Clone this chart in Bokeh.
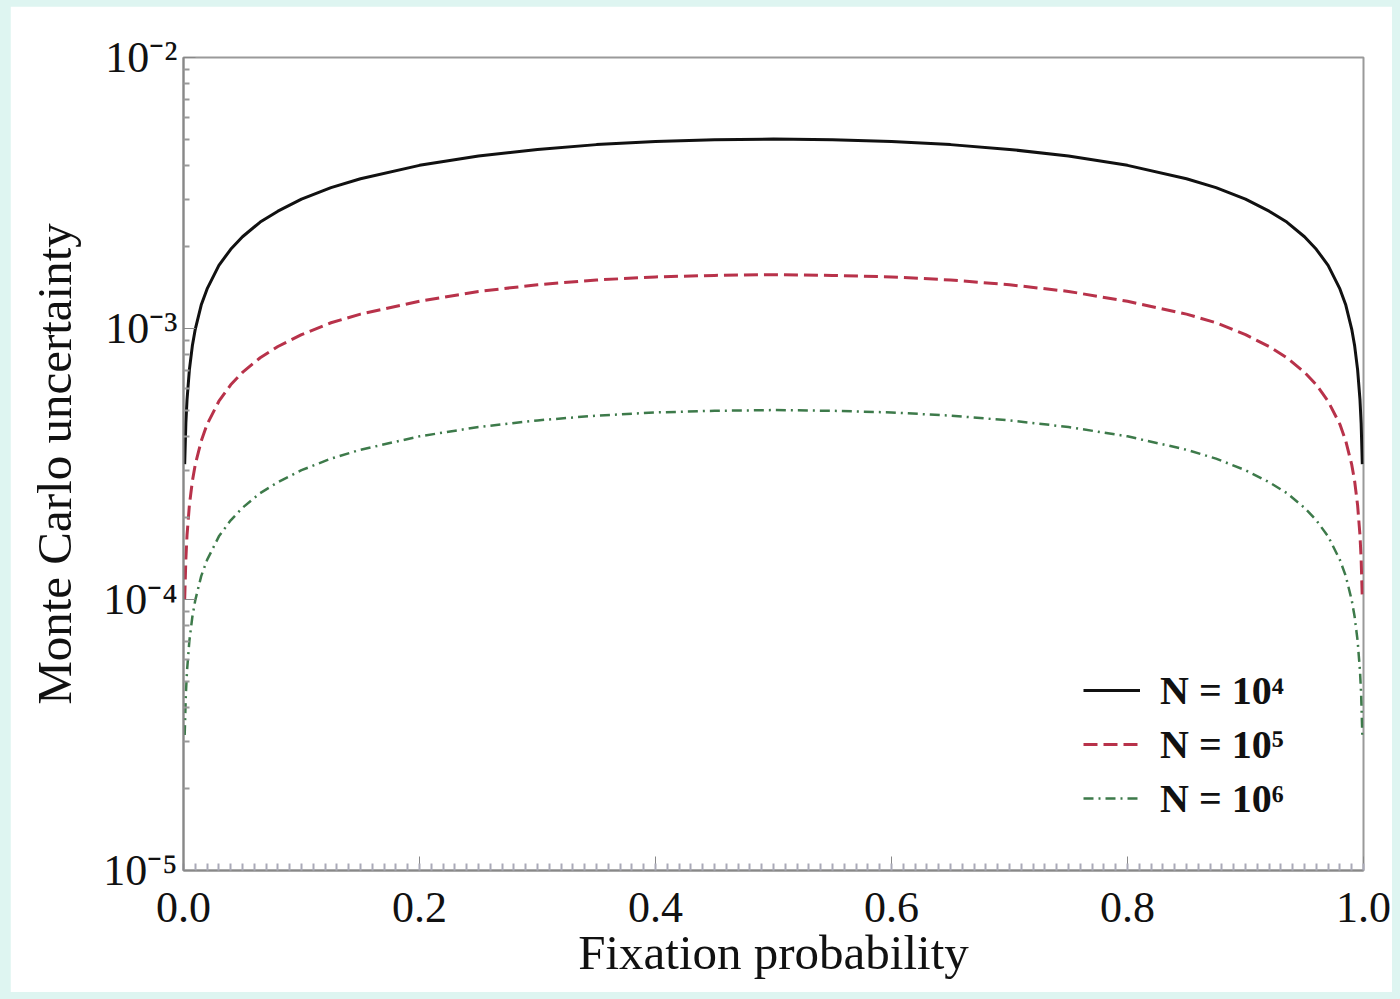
from bokeh.plotting import figure
from bokeh.models import Range1d, FixedTicker, Legend, LegendItem
from bokeh.layouts import column
from bokeh.embed import file_html
from bokeh.resources import INLINE

# ---- data ----
fix_prob = [0.001, 0.002, 0.003, 0.005, 0.0075, 0.01, 0.015, 0.02, 0.03, 0.04, 0.05,
            0.065, 0.08, 0.1, 0.125, 0.15, 0.2, 0.25, 0.3, 0.35, 0.4, 0.45, 0.5,
            0.55, 0.6, 0.65, 0.7, 0.75, 0.8, 0.85, 0.875, 0.9, 0.92, 0.935, 0.95,
            0.96, 0.97, 0.98, 0.985, 0.99, 0.9925, 0.995, 0.997, 0.998, 0.999]

unc_n1e4 = [3.16e-4, 4.47e-4, 5.47e-4, 7.05e-4, 8.63e-4, 9.95e-4, 1.22e-3, 1.40e-3, 1.71e-3,
            1.96e-3, 2.18e-3, 2.47e-3, 2.71e-3, 3.00e-3, 3.31e-3, 3.57e-3, 4.00e-3, 4.33e-3,
            4.58e-3, 4.77e-3, 4.90e-3, 4.97e-3, 5.00e-3,
            4.97e-3, 4.90e-3, 4.77e-3, 4.58e-3, 4.33e-3, 4.00e-3, 3.57e-3, 3.31e-3, 3.00e-3,
            2.71e-3, 2.47e-3, 2.18e-3, 1.96e-3, 1.71e-3, 1.40e-3, 1.22e-3, 9.95e-4, 8.63e-4,
            7.05e-4, 5.47e-4, 4.47e-4, 3.16e-4]

unc_n1e5 = [1.00e-4, 1.41e-4, 1.73e-4, 2.23e-4, 2.73e-4, 3.15e-4, 3.84e-4, 4.43e-4, 5.39e-4,
            6.20e-4, 6.89e-4, 7.80e-4, 8.58e-4, 9.49e-4, 1.05e-3, 1.13e-3, 1.26e-3, 1.37e-3,
            1.45e-3, 1.51e-3, 1.55e-3, 1.57e-3, 1.58e-3,
            1.57e-3, 1.55e-3, 1.51e-3, 1.45e-3, 1.37e-3, 1.26e-3, 1.13e-3, 1.05e-3, 9.49e-4,
            8.58e-4, 7.80e-4, 6.89e-4, 6.20e-4, 5.39e-4, 4.43e-4, 3.84e-4, 3.15e-4, 2.73e-4,
            2.23e-4, 1.73e-4, 1.41e-4, 1.00e-4]

unc_n1e6 = [3.16e-5, 4.47e-5, 5.47e-5, 7.05e-5, 8.63e-5, 9.95e-5, 1.22e-4, 1.40e-4, 1.71e-4,
            1.96e-4, 2.18e-4, 2.47e-4, 2.71e-4, 3.00e-4, 3.31e-4, 3.57e-4, 4.00e-4, 4.33e-4,
            4.58e-4, 4.77e-4, 4.90e-4, 4.97e-4, 5.00e-4,
            4.97e-4, 4.90e-4, 4.77e-4, 4.58e-4, 4.33e-4, 4.00e-4, 3.57e-4, 3.31e-4, 3.00e-4,
            2.71e-4, 2.47e-4, 2.18e-4, 1.96e-4, 1.71e-4, 1.40e-4, 1.22e-4, 9.95e-5, 8.63e-5,
            7.05e-5, 5.47e-5, 4.47e-5, 3.16e-5]

series_labels = ["N = 10\u2074", "N = 10\u2075", "N = 10\u2076"]

x_ticks = [0.0, 0.2, 0.4, 0.6, 0.8, 1.0]
x_tick_labels = ["0.0", "0.2", "0.4", "0.6", "0.8", "1.0"]
x_minor_ticks = [i / 100 for i in range(101)]
y_ticks = [1e-5, 1e-4, 1e-3, 1e-2]
y_tick_labels = ["10\u207b\u2075", "10\u207b\u2074", "10\u207b\u00b3", "10\u207b\u00b2"]
y_minor_ticks = [m * 10.0 ** d for d in (-5, -4, -3) for m in range(2, 10)]

FONT = "Liberation Serif"

p = figure(frame_width=1180, frame_height=813,
           x_range=Range1d(0, 1), y_range=Range1d(1e-5, 1e-2),
           y_axis_type="log", output_backend="svg", toolbar_location=None,
           min_border_left=173, min_border_top=51, min_border_right=29,
           min_border_bottom=122, background_fill_color="white",
           border_fill_color="white", margin=(6, 8, 7, 10))

p.outline_line_color = "#9a9a9a"
p.outline_line_width = 2
p.xgrid.visible = False
p.ygrid.visible = False

# x axis
xa = p.xaxis[0]
xa.ticker = FixedTicker(ticks=x_ticks, minor_ticks=x_minor_ticks)
xa.major_label_overrides = dict(zip(x_ticks, x_tick_labels))
xa.axis_label = "Fixation probability"
xa.major_tick_in = 14
xa.major_tick_out = 0
xa.minor_tick_in = 7
xa.minor_tick_out = 0
xa.major_tick_line_color = "#888888"
xa.minor_tick_line_color = "#aaaab8"
xa.minor_tick_line_width = 2
xa.axis_line_color = "#888888"
xa.axis_line_width = 2
xa.major_label_text_font = FONT
xa.major_label_text_font_size = "44px"
xa.major_label_text_color = "#111111"
xa.major_label_standoff = 22
xa.axis_label_text_font = FONT
xa.axis_label_text_font_size = "49px"
xa.axis_label_text_font_style = "normal"
xa.axis_label_text_color = "#111111"
xa.axis_label_standoff = 0

# y axis
ya = p.yaxis[0]
ya.ticker = FixedTicker(ticks=y_ticks, minor_ticks=y_minor_ticks)
ya.major_label_overrides = dict(zip(y_ticks, y_tick_labels))
ya.axis_label = "Monte Carlo uncertainty"
ya.major_tick_in = 12
ya.major_tick_out = 0
ya.minor_tick_in = 6
ya.minor_tick_out = 0
ya.major_tick_line_color = "#888888"
ya.minor_tick_line_color = "#999999"
ya.minor_tick_line_width = 2
ya.axis_line_color = "#888888"
ya.axis_line_width = 2
ya.major_label_text_font = FONT
ya.major_label_text_font_size = "44px"
ya.major_label_text_color = "#111111"
ya.major_label_standoff = 6
ya.axis_label_text_font = FONT
ya.axis_label_text_font_size = "49px"
ya.axis_label_text_font_style = "normal"
ya.axis_label_text_color = "#111111"
ya.axis_label_standoff = 18

r1 = p.line(fix_prob, unc_n1e4, line_color="#111111", line_width=3)
r2 = p.line(fix_prob, unc_n1e5, line_color="#b8324a", line_width=3, line_dash="14 6")
r3 = p.line(fix_prob, unc_n1e6, line_color="#3d7a4a", line_width=2.5, line_dash="10 5 2 5")

legend = Legend(items=[LegendItem(label=series_labels[0], renderers=[r1]),
                       LegendItem(label=series_labels[1], renderers=[r2]),
                       LegendItem(label=series_labels[2], renderers=[r3])],
                location=(900, 48), padding=0, margin=0, spacing=6,
                glyph_width=57, glyph_height=30, label_height=48, label_standoff=20,
                label_text_font=FONT, label_text_font_size="40px",
                label_text_font_style="bold", label_text_color="#111111",
                border_line_alpha=0, background_fill_alpha=0)
p.add_layout(legend, "center")

page = column(p, width=1400, height=999, styles={"background-color": "#def5f1"})

open("out.html", "w").write(file_html(page, INLINE))
